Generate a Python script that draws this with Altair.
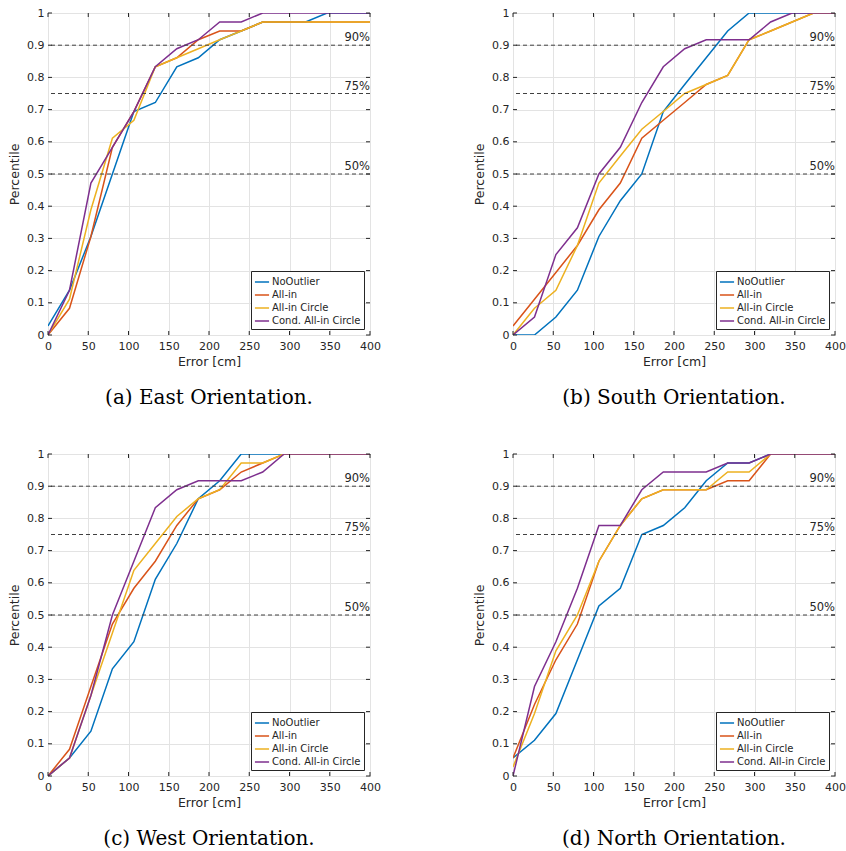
import altair as alt
import pandas as pd

# ---------------- data ----------------
ERROR_CM = [0, 26.7, 53.3, 80, 106.7, 133.3, 160, 186.7, 213.3, 240, 266.7, 293.3, 320, 346.7, 373.3, 400]
SERIES = ["NoOutlier", "All-in", "All-in Circle", "Cond. All-in Circle"]
COLORS = ["#0072BD", "#D95319", "#EDB120", "#7E2F8E"]

EAST_NOOUTLIER = [0.028, 0.139, 0.306, 0.5, 0.694, 0.722, 0.833, 0.861, 0.917, 0.944, 0.972, 0.972, 0.972, 1.0, 1.0, 1.0]
EAST_ALLIN = [0, 0.083, 0.306, 0.583, 0.694, 0.833, 0.861, 0.917, 0.944, 0.944, 0.972, 0.972, 0.972, 0.972, 0.972, 0.972]
EAST_CIRCLE = [0, 0.111, 0.389, 0.611, 0.667, 0.833, 0.861, 0.889, 0.917, 0.944, 0.972, 0.972, 0.972, 0.972, 0.972, 0.972]
EAST_COND = [0, 0.139, 0.472, 0.583, 0.694, 0.833, 0.889, 0.917, 0.972, 0.972, 1.0, 1.0, 1.0, 1.0, 1.0, 1.0]

SOUTH_NOOUTLIER = [0, 0, 0.056, 0.139, 0.306, 0.417, 0.5, 0.694, 0.778, 0.861, 0.944, 1.0, 1.0, 1.0, 1.0, 1.0]
SOUTH_ALLIN = [0.028, 0.111, 0.194, 0.278, 0.389, 0.472, 0.611, 0.667, 0.722, 0.778, 0.806, 0.917, 0.944, 0.972, 1.0, 1.0]
SOUTH_CIRCLE = [0, 0.083, 0.139, 0.278, 0.472, 0.556, 0.639, 0.694, 0.75, 0.778, 0.806, 0.917, 0.944, 0.972, 1.0, 1.0]
SOUTH_COND = [0, 0.056, 0.25, 0.333, 0.5, 0.583, 0.722, 0.833, 0.889, 0.917, 0.917, 0.917, 0.972, 1.0, 1.0, 1.0]

WEST_NOOUTLIER = [0, 0.056, 0.139, 0.333, 0.417, 0.611, 0.722, 0.861, 0.917, 1.0, 1.0, 1.0, 1.0, 1.0, 1.0, 1.0]
WEST_ALLIN = [0, 0.083, 0.278, 0.472, 0.583, 0.667, 0.778, 0.861, 0.889, 0.944, 0.972, 1.0, 1.0, 1.0, 1.0, 1.0]
WEST_CIRCLE = [0, 0.056, 0.25, 0.444, 0.639, 0.722, 0.806, 0.861, 0.889, 0.972, 0.972, 1.0, 1.0, 1.0, 1.0, 1.0]
WEST_COND = [0, 0.056, 0.25, 0.5, 0.667, 0.833, 0.889, 0.917, 0.917, 0.917, 0.944, 1.0, 1.0, 1.0, 1.0, 1.0]

NORTH_NOOUTLIER = [0.056, 0.111, 0.194, 0.361, 0.528, 0.583, 0.75, 0.778, 0.833, 0.917, 0.972, 0.972, 1.0, 1.0, 1.0, 1.0]
NORTH_ALLIN = [0.056, 0.222, 0.361, 0.472, 0.667, 0.778, 0.861, 0.889, 0.889, 0.889, 0.917, 0.917, 1.0, 1.0, 1.0, 1.0]
NORTH_CIRCLE = [0.028, 0.194, 0.389, 0.5, 0.667, 0.778, 0.861, 0.889, 0.889, 0.889, 0.944, 0.944, 1.0, 1.0, 1.0, 1.0]
NORTH_COND = [0, 0.278, 0.417, 0.583, 0.778, 0.778, 0.889, 0.944, 0.944, 0.944, 0.972, 0.972, 1.0, 1.0, 1.0, 1.0]

PERCENTILES = [0.5, 0.75, 0.9]
PERCENTILE_LABELS = ["50%", "75%", "90%"]
X_TICKS = [0, 50, 100, 150, 200, 250, 300, 350, 400]
Y_TICKS = [0, 0.1, 0.2, 0.3, 0.4, 0.5, 0.6, 0.7, 0.8, 0.9, 1.0]

CAPTIONS = ["(a) East Orientation.", "(b) South Orientation.",
            "(c) West Orientation.", "(d) North Orientation."]

W = 322
H = 322
TICK_LEN = 4
FONT = "DejaVu Sans"
INK = "#262626"

XSCALE = alt.Scale(domain=[0, 400], nice=False, zero=False)
YSCALE = alt.Scale(domain=[0, 1], nice=False, zero=False)
XAXIS = alt.Axis(values=X_TICKS, title="Error [cm]", grid=True,
                 labelFlush=False, labelOverlap=False,
                 labelPadding=5, titlePadding=4)
YAXIS = alt.Axis(values=Y_TICKS, title="Percentile", grid=True,
                 labelFlush=False, labelOverlap=False,
                 labelExpr="format(datum.value, '.1~f')",
                 labelPadding=4, titlePadding=5)


def X(field):
    return alt.X(field, scale=XSCALE, axis=XAXIS)


def Y(field):
    return alt.Y(field, scale=YSCALE, axis=YAXIS)


def panel(series_lists, caption):
    rows = []
    for name, vals in zip(SERIES, series_lists):
        for i, (x, y) in enumerate(zip(ERROR_CM, vals)):
            rows.append({"error": x, "pct": y, "series": name, "idx": i})
    df = pd.DataFrame(rows)

    lines = alt.Chart(df).mark_line(strokeWidth=1.5, clip=True).encode(
        x=X("error:Q"),
        y=Y("pct:Q"),
        color=alt.Color("series:N",
                        scale=alt.Scale(domain=SERIES, range=COLORS),
                        legend=alt.Legend(title=None, orient="bottom-right", offset=6,
                                          symbolType="stroke", symbolSize=200,
                                          symbolStrokeWidth=1.5, labelFont=FONT,
                                          labelFontSize=10, labelColor=INK,
                                          labelOffset=2, rowPadding=0,
                                          padding=3, strokeColor=INK,
                                          fillColor="white", cornerRadius=0)),
        order="idx:Q",
    )

    pdf = pd.DataFrame({"pct": PERCENTILES, "label": PERCENTILE_LABELS})
    dashed = alt.Chart(pdf).mark_rule(color="#404040", strokeDash=[4, 3],
                                      strokeWidth=1).encode(y=Y("pct:Q"))
    labels = alt.Chart(pdf).mark_text(align="right", baseline="bottom", dy=-2,
                                      font=FONT, fontSize=11.5, color=INK).encode(
        x=alt.datum(400), y=Y("pct:Q"), text="label:N")

    xt = pd.DataFrame({"v": X_TICKS})
    yt = pd.DataFrame({"v": Y_TICKS})
    tick_bottom = alt.Chart(xt).mark_rule(color=INK).encode(
        x=X("v:Q"), y=alt.value(H), y2=alt.value(H - TICK_LEN))
    tick_top = alt.Chart(xt).mark_rule(color=INK).encode(
        x=X("v:Q"), y=alt.value(0), y2=alt.value(TICK_LEN))
    tick_left = alt.Chart(yt).mark_rule(color=INK).encode(
        y=Y("v:Q"), x=alt.value(0), x2=alt.value(TICK_LEN))
    tick_right = alt.Chart(yt).mark_rule(color=INK).encode(
        y=Y("v:Q"), x=alt.value(W - TICK_LEN), x2=alt.value(W))

    return alt.layer(lines, dashed, labels, tick_bottom, tick_top, tick_left,
                     tick_right).properties(
        width=W, height=H,
        title=alt.TitleParams(caption, orient="bottom", anchor="middle",
                              font="DejaVu Serif", fontSize=20,
                              fontWeight="normal", color="black", offset=20),
    )


pa = panel([EAST_NOOUTLIER, EAST_ALLIN, EAST_CIRCLE, EAST_COND], CAPTIONS[0])
pb = panel([SOUTH_NOOUTLIER, SOUTH_ALLIN, SOUTH_CIRCLE, SOUTH_COND], CAPTIONS[1])
pc = panel([WEST_NOOUTLIER, WEST_ALLIN, WEST_CIRCLE, WEST_COND], CAPTIONS[2])
pd_ = panel([NORTH_NOOUTLIER, NORTH_ALLIN, NORTH_CIRCLE, NORTH_COND], CAPTIONS[3])

chart = alt.concat(pa, pb, pc, pd_, columns=2,
                   spacing={"row": 39, "column": 92}).resolve_legend(
    color="independent"
).properties(
    padding={"left": 8, "top": 6, "right": 0, "bottom": 0},
    background="white",
).configure_view(
    stroke=INK, strokeWidth=1
).configure_axis(
    grid=True, gridColor="#e3e3e3", gridWidth=1, domain=False, ticks=False,
    labelFont=FONT, labelFontSize=11, labelColor=INK,
    titleFont=FONT, titleFontSize=12.5, titleFontWeight="normal", titleColor=INK,
)

chart.save("out.html", embed_options={"renderer": "svg", "actions": False})
